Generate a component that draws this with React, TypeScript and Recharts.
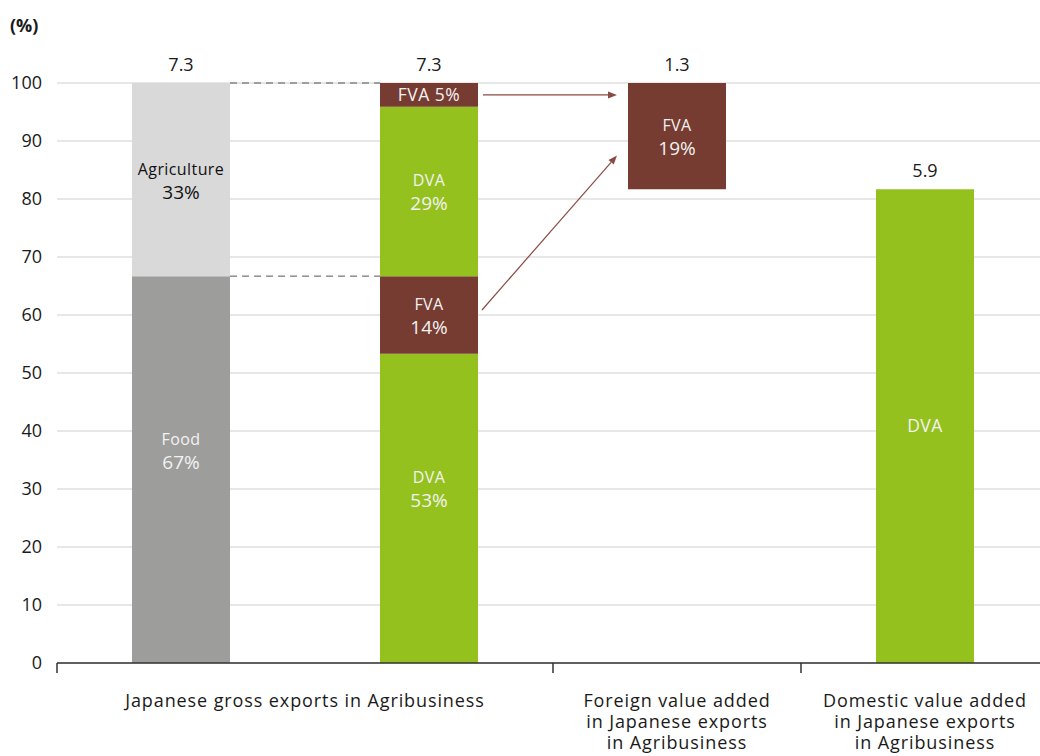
import React from "react";
import { BarChart, Bar, XAxis, YAxis, CartesianGrid, LabelList, Cell } from "recharts";

// ---------- data ----------
const categories = ["grossSector", "grossValueAdded", "foreignVA", "domesticVA"];
const axisLabels: string[][] = [
  ["Japanese gross exports in Agribusiness"],
  [],
  ["Foreign value added", "in Japanese exports", "in Agribusiness"],
  ["Domestic value added", "in Japanese exports", "in Agribusiness"],
];
const seg1Values = [66.7, 53.3, 81.7, 81.7];
const seg2Values = [33.3, 13.4, 18.3, 0];
const seg3Values = [0, 29.2, 0, 0];
const seg4Values = [0, 4.1, 0, 0];
const seg1Labels = [["Food", "67%"], ["DVA", "53%"], null, ["DVA"]];
const seg2Labels = [["Agriculture", "33%"], ["FVA", "14%"], ["FVA", "19%"], null];
const seg3Labels = [null, ["DVA", "29%"], null, null];
const seg4Labels = [null, ["FVA 5%"], null, null];
const totals = ["7.3", "7.3", "1.3", "5.9"];
const yTicks = [0, 10, 20, 30, 40, 50, 60, 70, 80, 90, 100];
const arrowTargetValue = 87.5;

// ---------- styling ----------
const GREEN = "#95c11f";
const BROWN = "#763b31";
const GRAY = "#9d9d9c";
const LIGHT = "#d9d9d9";
const ARROW = "#8a4b43";
const FONT = "'Open Sans', 'Noto Sans', sans-serif";

const seg1Colors = [GRAY, GREEN, "transparent", GREEN];
const seg2Colors = [LIGHT, BROWN, BROWN, BROWN];
const seg3Colors = [GREEN, GREEN, GREEN, GREEN];
const seg4Colors = [BROWN, BROWN, BROWN, BROWN];
const seg1Text = ["#f2f2f2", "#f2f2f2", "#fff", "#f2f2f2"];
const seg2Text = ["#111", "#f2f2f2", "#f2f2f2", "#fff"];

const data = categories.map((c, i) => ({
  cat: c,
  s1: seg1Values[i],
  s2: seg2Values[i],
  s3: seg3Values[i],
  s4: seg4Values[i],
}));

// ---------- layout ----------
const CHART_W = 1049;
const CHART_H = 756;
const M_TOP = 83;
const Y_W = 57;
const X_H = 93;
const BAR_W = 98;
const PLOT_W = CHART_W - Y_W;
const PLOT_H = CHART_H - M_TOP - X_H;
const SLOT = PLOT_W / categories.length;
const GAP = SLOT - BAR_W;
const yPix = (v: number) => M_TOP + ((100 - v) / 100) * PLOT_H;

const allSegs = [seg1Values, seg2Values, seg3Values, seg4Values];
const topSegIndex = (i: number) => {
  let t = -1;
  allSegs.forEach((s, k) => {
    if (s[i] > 0) t = k;
  });
  return t;
};

const Arrow = ({ x1, y1, x2, y2 }: any) => {
  const ang = Math.atan2(y2 - y1, x2 - x1);
  const L = 9;
  const Wd = 3.5;
  const bx = x2 - L * Math.cos(ang);
  const by = y2 - L * Math.sin(ang);
  const px = -Math.sin(ang) * Wd;
  const py = Math.cos(ang) * Wd;
  return (
    <g>
      <line x1={x1} y1={y1} x2={bx} y2={by} stroke={ARROW} strokeWidth={1.2} />
      <polygon points={`${x2},${y2} ${bx + px},${by + py} ${bx - px},${by - py}`} fill={ARROW} />
    </g>
  );
};

const makeLabel = (segIdx: number, labels: any[], textColors: string[]) => (props: any) => {
  const { x, y, width, height } = props;
  if (x == null || width == null) return null;
  const i = Math.floor((x + width / 2 - Y_W) / SLOT);
  const val = allSegs[segIdx][i];
  const out: any[] = [];
  if (val > 0) {
    const cx = x + width / 2;
    const cy = y + height / 2;
    const lines = labels[i];
    if (lines) {
      const color = textColors[i];
      const weight = color === "#111" ? 500 : 400;
      if (lines.length === 1) {
        out.push(
          <text key="l1" x={cx} y={cy + 6} textAnchor="middle" fill={color} fontSize={17.5} letterSpacing={0.5} fontFamily={FONT}>
            {lines[0]}
          </text>
        );
      } else {
        const shift = segIdx === 0 ? -20 : 0;
        out.push(
          <text key="l1" x={cx} y={cy - 5 + shift} textAnchor="middle" fill={color} fontSize={16} fontWeight={weight} letterSpacing={0.4} fontFamily={FONT}>
            {lines[0]}
          </text>
        );
        out.push(
          <text key="l2" x={cx} y={cy + 19 + shift} textAnchor="middle" fill={color} fontSize={19} fontWeight={weight} fontFamily={FONT}>
            {lines[1]}
          </text>
        );
      }
    }
    if (topSegIndex(i) === segIdx) {
      out.push(
        <text key="tot" x={cx} y={y - 12} textAnchor="middle" fill="#1a1a1a" fontSize={18} fontFamily={FONT}>
          {totals[i]}
        </text>
      );
    }
    // dashed guides from the sector bar to the value-added bar
    if (i === 0 && segIdx === 1) {
      out.push(
        <line key="d1" x1={x + width} y1={y} x2={x + width + GAP} y2={y} stroke="#555" strokeDasharray="7 5" strokeWidth={1} />
      );
      out.push(
        <line key="d2" x1={x + width} y1={y + height} x2={x + width + GAP} y2={y + height} stroke="#555" strokeDasharray="7 5" strokeWidth={1} />
      );
    }
    // arrows from FVA pieces to the foreign value added bar
    if (i === 1 && segIdx === 3) {
      out.push(<Arrow key="a1" x1={x + width + 5} y1={cy} x2={x + width + GAP - 11} y2={cy} />);
    }
    if (i === 1 && segIdx === 1) {
      out.push(<Arrow key="a2" x1={x + width + 4} y1={cy - 5} x2={x + width + GAP - 11} y2={yPix(arrowTargetValue)} />);
    }
  }
  return <g>{out}</g>;
};

const XTick = (props: any) => {
  const { x, y, payload } = props;
  const i = payload?.index ?? props.index;
  const half = SLOT / 2;
  const lines = axisLabels[i] || [];
  const center = i === 0 ? x + half : x;
  const marks: number[] = [];
  if (i === 0 || i === 2) marks.push(x - half);
  if (i === 3) marks.push(x - half, x + half);
  return (
    <g>
      {marks.map((mx, k) => (
        <line key={k} x1={mx} y1={y} x2={mx} y2={y + 10} stroke="#333" strokeWidth={1.5} />
      ))}
      {lines.map((ln, k) => (
        <text key={"t" + k} x={center} y={y + 44 + k * 21} textAnchor="middle" fill="#1a1a1a" fontSize={18} letterSpacing={0.9} fontFamily={FONT}>
          {ln}
        </text>
      ))}
    </g>
  );
};

export default function App() {
  return (
    <div style={{ position: "relative", width: 1040, height: 756, overflow: "hidden", background: "#fff" }}>
      <style>{`body{margin:0;overflow:hidden}`}</style>
      <div
        style={{
          position: "absolute",
          left: 10,
          top: 13,
          fontFamily: FONT,
          fontSize: 18,
          fontWeight: 700,
          color: "#1a1a1a",
        }}
      >
        (%)
      </div>
      <BarChart
        width={CHART_W}
        height={CHART_H}
        data={data}
        margin={{ top: M_TOP, right: 0, bottom: 0, left: 0 }}
        barSize={BAR_W}
      >
        <CartesianGrid vertical={false} stroke="#d0d0d0" strokeWidth={1.2} />
        <YAxis
          type="number"
          domain={[0, 100]}
          ticks={yTicks}
          width={Y_W}
          axisLine={false}
          tickLine={false}
          tickSize={0}
          tickMargin={15}
          tick={{ fontSize: 18, fill: "#1a1a1a", fontFamily: FONT }}
        />
        <XAxis
          dataKey="cat"
          height={X_H}
          tickLine={false}
          tickSize={0}
          tickMargin={0}
          axisLine={{ stroke: "#333", strokeWidth: 1.5 }}
          tick={<XTick />}
          interval={0}
        />
        <Bar dataKey="s1" stackId="a" isAnimationActive={false}>
          {data.map((_, i) => (
            <Cell key={i} fill={seg1Colors[i]} />
          ))}
          <LabelList content={makeLabel(0, seg1Labels, seg1Text)} />
        </Bar>
        <Bar dataKey="s2" stackId="a" isAnimationActive={false}>
          {data.map((_, i) => (
            <Cell key={i} fill={seg2Colors[i]} />
          ))}
          <LabelList content={makeLabel(1, seg2Labels, seg2Text)} />
        </Bar>
        <Bar dataKey="s3" stackId="a" isAnimationActive={false}>
          {data.map((_, i) => (
            <Cell key={i} fill={seg3Colors[i]} />
          ))}
          <LabelList content={makeLabel(2, seg3Labels, seg1Text)} />
        </Bar>
        <Bar dataKey="s4" stackId="a" isAnimationActive={false}>
          {data.map((_, i) => (
            <Cell key={i} fill={seg4Colors[i]} />
          ))}
          <LabelList content={makeLabel(3, seg4Labels, seg1Text)} />
        </Bar>
      </BarChart>
    </div>
  );
}
